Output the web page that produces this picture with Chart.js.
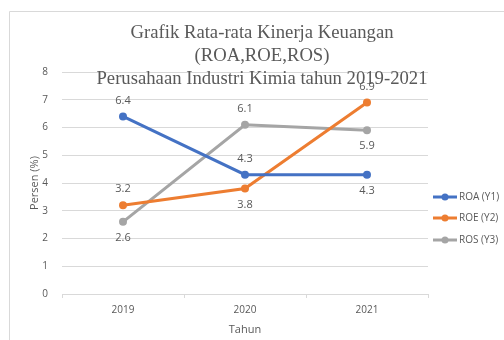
<!DOCTYPE html>
<html><head><meta charset="utf-8">
<script src="https://cdn.jsdelivr.net/npm/chart.js@4"></script>
<style>html,body{margin:0;padding:0;background:#fff;}canvas{display:block;}</style>
</head><body>
<canvas id="c" width="504" height="340"></canvas>
<script>
const categories = ['2019', '2020', '2021'];
const roa = [6.4, 4.3, 4.3];
const roe = [3.2, 3.8, 6.9];
const ros = [2.6, 6.1, 5.9];
const seriesNames = ['ROA (Y1)', 'ROE (Y2)', 'ROS (Y3)'];
const titleLines = ['Grafik Rata-rata Kinerja Keuangan', '(ROA,ROE,ROS)', 'Perusahaan Industri Kimia tahun 2019-2021'];
const yTicks = [0, 1, 2, 3, 4, 5, 6, 7, 8];

const colors = ['#4472C4', '#ED7D31', '#A5A5A5'];
const labelSide = [[-1, -1, 1], [-1, 1, -1], [1, -1, 1]];
const sansFont = '"Open Sans", "DejaVu Sans", sans-serif';

const extras = {
  id: 'extras',
  beforeDraw(chart) {
    const ctx = chart.ctx;
    ctx.save();
    ctx.strokeStyle = '#d9d9d9';
    ctx.lineWidth = 1;
    ctx.beginPath();
    ctx.moveTo(9.5, 340); ctx.lineTo(9.5, 11.5); ctx.lineTo(504, 11.5);
    ctx.stroke();
    ctx.restore();
  },
  afterDatasetsDraw(chart) {
    const ctx = chart.ctx;
    ctx.save();
    ctx.font = '11px ' + sansFont;
    ctx.fillStyle = '#595959';
    ctx.textAlign = 'center';
    ctx.textBaseline = 'middle';
    chart.data.datasets.forEach((ds, i) => {
      const meta = chart.getDatasetMeta(i);
      meta.data.forEach((pt, j) => {
        const side = labelSide[i][j];
        ctx.fillText(ds.data[j].toFixed(1), pt.x, pt.y + side * 16);
      });
    });
    // title
    ctx.font = '18.7px "Liberation Serif", "Times New Roman", serif';
    ctx.fillStyle = '#595959';
    const ys = [33, 56, 79];
    titleLines.forEach((t, k) => ctx.fillText(t, 262, ys[k]));
    // legend
    ctx.font = '10px ' + sansFont;
    ctx.textAlign = 'left';
    const ly = [197, 218, 240];
    seriesNames.forEach((n, k) => {
      ctx.strokeStyle = colors[k];
      ctx.fillStyle = colors[k];
      ctx.lineWidth = 3;
      ctx.beginPath(); ctx.moveTo(433, ly[k]); ctx.lineTo(457, ly[k]); ctx.stroke();
      ctx.beginPath(); ctx.arc(445, ly[k], 3.5, 0, Math.PI * 2); ctx.fill();
      ctx.fillStyle = '#595959';
      ctx.fillText(n, 459, ly[k]);
    });
    ctx.restore();
  }
};

const mk = (label, data, k) => ({
  label, data,
  borderColor: colors[k], backgroundColor: colors[k],
  borderWidth: 3, pointRadius: 4, pointHoverRadius: 4,
  pointBorderWidth: 0, tension: 0
});

new Chart(document.getElementById('c'), {
  type: 'line',
  data: {
    labels: categories,
    datasets: [mk(seriesNames[0], roa, 0), mk(seriesNames[1], roe, 1), mk(seriesNames[2], ros, 2)]
  },
  options: {
    responsive: false,
    animation: false,
    events: [],
    layout: { padding: { top: 72, right: 76, left: 0, bottom: 0 } },
    plugins: { legend: { display: false }, title: { display: false }, tooltip: { enabled: false } },
    scales: {
      x: {
        offset: true,
        grid: { offset: true, drawOnChartArea: false, drawTicks: true, tickLength: 4, color: '#d9d9d9' },
        border: { display: false },
        ticks: { padding: 6, color: '#595959', font: { family: sansFont, size: 10 } },
        title: { display: true, text: 'Tahun', color: '#595959', padding: { top: 0, bottom: 4 }, font: { family: sansFont, size: 11 } },
        afterFit(s) { s.height = 46; }
      },
      y: {
        min: 0, max: 8,
        afterBuildTicks(s) { s.ticks = yTicks.map(v => ({ value: v })); },
        grid: { color: '#d9d9d9', drawTicks: false },
        border: { display: false },
        ticks: { padding: 14, color: '#595959', font: { family: sansFont, size: 10 } },
        title: { display: true, text: 'Persen (%)', color: '#595959', padding: { top: 28, bottom: 0 }, font: { family: sansFont, size: 11 } },
        afterFit(s) { s.width = 62; }
      }
    }
  },
  plugins: [extras]
});
</script>
</body></html>
